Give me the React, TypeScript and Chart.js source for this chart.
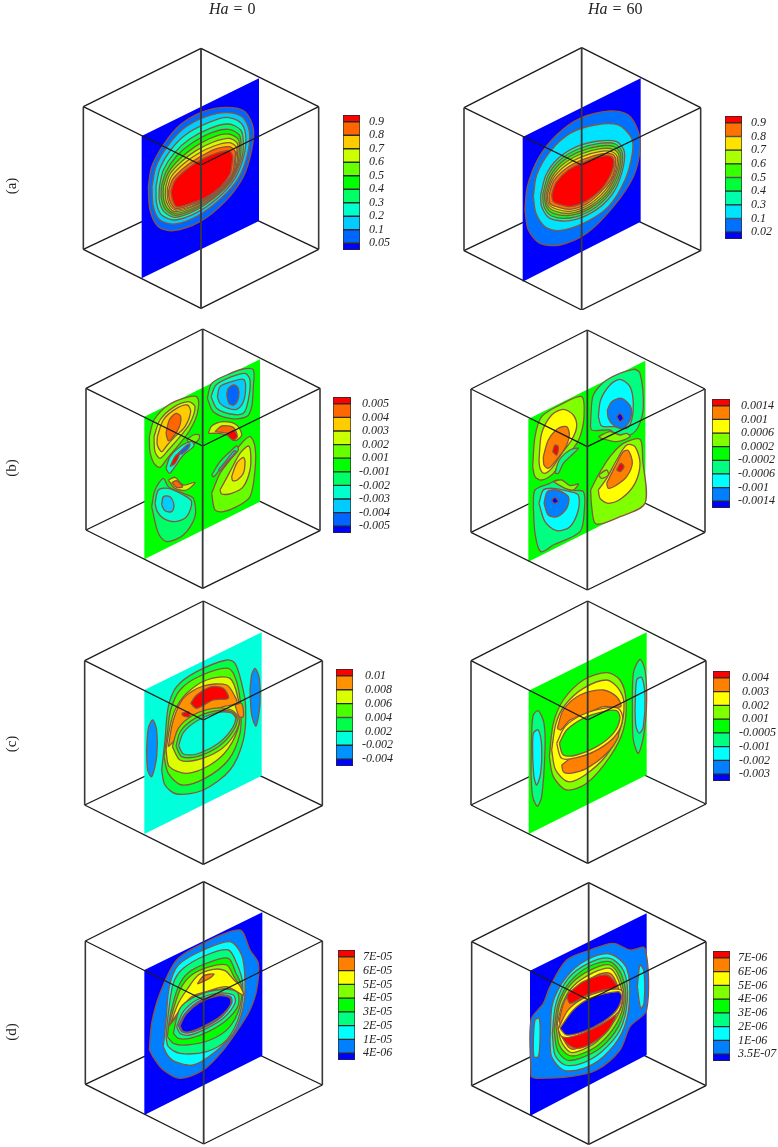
import React, { useEffect, useRef } from "react";
import { Chart, registerables } from "chart.js";

Chart.register(...registerables);

// ---- colour-bar level labels (top to bottom)
const labelsA0 = ["0.9", "0.8", "0.7", "0.6", "0.5", "0.4", "0.3", "0.2", "0.1", "0.05"];
const labelsA60 = ["0.9", "0.8", "0.7", "0.6", "0.5", "0.4", "0.3", "0.1", "0.02"];
const labelsB0 = ["0.005", "0.004", "0.003", "0.002", "0.001", "-0.001", "-0.002", "-0.003", "-0.004", "-0.005"];
const labelsB60 = ["0.0014", "0.001", "0.0006", "0.0002", "-0.0002", "-0.0006", "-0.001", "-0.0014"];
const labelsC0 = ["0.01", "0.008", "0.006", "0.004", "0.002", "-0.002", "-0.004"];
const labelsC60 = ["0.004", "0.003", "0.002", "0.001", "-0.0005", "-0.001", "-0.002", "-0.003"];
const labelsD0 = ["7E-05", "6E-05", "5E-05", "4E-05", "3E-05", "2E-05", "1E-05", "4E-06"];
const labelsD60 = ["7E-06", "6E-06", "5E-06", "4E-06", "3E-06", "2E-06", "1E-06", "3.5E-07"];

// ---- cube vertices: top, upperLeft, upperRight, lowerLeft, lowerRight, bottom, centre, back
const cubeA0 = [[363,115],[10,290],[716,290],[10,718],[716,718],[363,895],[363,465],[363,551]];
const cubeA60 = [[335,113],[-18,293],[692,293],[-18,722],[692,722],[335,900],[335,465],[335,553]];
const cubeB0 = [[368,27],[18,205],[720,205],[18,630],[720,632],[368,805],[368,378],[368,460]];
const cubeB60 = [[352,30],[3,207],[705,207],[3,637],[705,637],[352,810],[352,380],[352,465]];
const cubeC0 = [[370,3],[14,182],[727,182],[14,615],[727,617],[370,793],[370,360],[370,445]];
const cubeC60 = [[353,3],[3,182],[708,182],[3,615],[708,612],[353,790],[353,360],[353,445]];
const cubeD0 = [[371,5],[16,183],[727,183],[16,613],[727,615],[371,792],[371,360],[371,445]];
const cubeD60 = [[356,8],[5,185],[708,185],[5,617],[708,617],[356,793],[356,360],[356,445]];

// ---- slice planes
const planeA0 = [185,378,537,205,537,633,185,805];
const planeA60 = [158,381,512,205,512,635,158,815];
const planeB0 = [193,290,540,118,540,545,193,718];
const planeB60 = [175,297,526,122,526,550,175,725];
const planeC0 = [193,270,545,97,545,527,193,702];
const planeC60 = [176,272,530,97,530,525,176,702];
const planeD0 = [193,270,547,97,547,527,193,705];
const planeD60 = [180,272,530,100,530,525,180,708];

// ---- contour bands: [band index from top of the colour bar, x,y, x,y, ...]
const contoursA0: [number, number[]][] = [
  [9,[205,530,215,470,250,405,300,345,370,305,440,292,495,305,520,355,515,420,490,500,435,575,360,635,280,662,235,650,210,600]],
  [8,[216,530,228,470,262,410,312,355,378,320,440,308,488,322,508,365,503,430,475,505,420,568,352,618,285,642,240,630,220,590]],
  [7,[228,530,240,475,272,420,320,372,385,338,440,322,482,338,497,375,492,435,465,505,412,565,350,608,285,630,245,615,230,580]],
  [6,[238,530,250,480,282,430,328,388,390,355,445,342,482,360,490,395,485,445,455,512,402,565,345,602,285,622,252,605,238,572]],
  [5,[244,530,258,485,290,438,335,400,395,368,445,358,478,375,483,410,478,455,450,515,398,565,342,598,285,616,256,598,244,565]],
  [4,[250,530,265,488,298,448,342,412,398,382,445,372,475,388,478,420,472,465,445,518,395,563,340,594,285,610,260,592,250,562]],
  [3,[257,530,270,492,304,455,348,422,400,396,447,385,472,400,473,430,468,472,440,520,392,562,338,590,285,605,264,586,256,560]],
  [2,[262,535,275,498,310,462,352,432,402,408,448,398,470,412,468,440,463,480,435,524,388,562,336,588,287,600,268,582,262,558]],
  [1,[266,540,280,505,316,470,358,442,404,418,448,410,466,425,464,450,458,488,430,526,384,562,334,584,288,596,272,578,266,558]],
  [0,[273,545,285,512,320,478,362,450,408,430,446,422,458,438,456,462,450,492,422,530,378,562,332,580,290,590,278,570]],
];
const contoursA60: [number, number[]][] = [
  [8,[165,600,172,530,205,445,260,375,330,325,420,303,475,315,505,365,510,420,490,500,430,590,350,670,270,705,210,700,175,660]],
  [7,[190,560,200,495,240,425,300,370,375,345,445,345,485,385,487,430,465,510,415,590,340,640,265,662,225,650,198,610]],
  [6,[212,555,228,495,265,445,320,410,385,393,440,395,463,425,455,490,425,555,370,605,300,632,240,625,215,590]],
  [5,[218,555,234,497,270,450,325,417,388,400,436,402,457,428,450,490,420,550,365,600,300,624,245,618,222,590]],
  [4,[223,555,240,500,275,456,330,424,390,408,432,410,452,432,444,490,415,548,360,595,300,616,250,610,228,588]],
  [3,[228,555,245,503,280,462,333,432,392,416,430,418,447,436,438,492,410,545,358,590,300,610,254,603,232,585]],
  [2,[232,555,248,508,285,468,336,440,392,424,428,426,442,442,433,495,405,542,355,585,300,604,258,597,236,582]],
  [1,[237,555,252,512,290,474,340,448,394,432,426,432,437,448,428,498,400,538,352,580,300,598,262,591,240,580]],
  [0,[245,555,258,518,295,480,345,455,396,438,424,440,432,458,420,498,395,536,348,574,300,590,268,583,250,575]],
];
const contoursB0: [number, number[]][] = [
  [4,[208,350,222,300,265,255,320,232,352,232,352,280,330,330,300,370,262,415,240,442,222,430,210,395]],
  [3,[222,350,240,300,280,262,325,245,345,260,330,310,300,350,265,390,240,415,225,395]],
  [2,[232,350,250,300,285,268,322,255,332,275,315,320,285,350,262,375,245,395,232,375]],
  [1,[258,340,268,300,288,280,302,290,298,320,280,350,265,362]],
  [4,[320,360,340,345,358,345,355,360,335,372]],
  [7,[258,445,270,410,300,380,335,365,342,378,310,405,285,440,268,460]],
  [0,[270,440,285,410,300,398,285,430]],
  [9,[295,400,315,380,330,372,325,385,305,402]],
  [6,[382,235,395,190,440,165,490,147,520,150,520,200,515,260,500,290,450,295,400,275]],
  [7,[393,230,408,195,450,172,495,160,510,180,505,240,490,280,450,282,410,265]],
  [8,[412,230,420,200,455,185,490,178,497,200,490,245,470,268,445,265,420,250]],
  [9,[440,225,445,205,462,195,475,205,475,235,462,255,447,250]],
  [3,[385,340,395,318,430,305,470,315,485,345,465,362,440,345,410,340]],
  [1,[405,335,425,318,460,322,470,345,445,340]],
  [0,[440,342,462,332,472,350,458,360]],
  [4,[395,520,420,460,450,420,480,375,510,350,525,380,525,450,510,530,470,560,430,575,405,570]],
  [3,[420,510,450,455,480,400,505,378,512,400,510,450,490,500,455,520,425,522]],
  [2,[455,470,470,430,490,412,495,425,490,460,472,480,458,482]],
  [6,[395,465,420,425,450,395,470,378,475,390,445,425,415,455,402,470]],
  [8,[415,450,440,420,462,392,468,395,440,428,420,452]],
  [3,[265,480,285,472,310,495,345,487,320,510,285,505]],
  [1,[275,488,290,482,308,500,290,502]],
  [6,[215,560,225,510,250,475,265,500,310,520,340,535,345,590,310,645,260,665,235,640]],
  [7,[225,550,235,510,265,505,310,525,335,545,320,590,285,605,250,595,232,575]],
  [8,[245,555,250,530,270,530,282,555,275,575,255,572]],
];
const contoursB60: [number, number[]][] = [
  [3,[188,440,195,350,215,290,270,255,335,230,342,290,330,350,310,385,280,410,250,460,215,480,195,470]],
  [2,[207,420,215,340,245,285,280,268,310,285,320,320,305,360,275,400,245,445,222,460,210,445]],
  [1,[220,410,235,360,265,325,290,320,298,345,285,385,255,425,235,445,222,435]],
  [0,[248,395,255,375,265,380,260,405]],
  [5,[255,460,268,420,300,390,325,385,300,410,280,430,265,460]],
  [5,[362,300,370,225,410,180,490,148,510,160,520,260,505,320,480,345,440,345,420,330,365,330]],
  [6,[385,290,392,240,420,195,450,178,480,200,490,250,485,300,470,325,430,320,395,318]],
  [7,[412,270,425,245,455,235,482,260,482,295,460,325,430,315,415,295]],
  [8,[440,290,450,280,460,295,450,305]],
  [3,[385,350,420,335,450,345,470,340,480,350,440,365,395,355]],
  [3,[362,510,385,465,420,410,460,370,510,358,518,420,525,550,450,590,378,612,365,560]],
  [2,[385,510,410,475,440,420,470,375,495,380,510,430,495,490,455,535,415,550,390,535]],
  [1,[410,490,435,440,460,395,475,392,487,430,470,470,440,495,415,505]],
  [0,[440,450,452,430,462,440,450,455]],
  [3,[385,465,410,450,415,465,395,475]],
  [5,[190,560,195,510,240,490,265,480,300,510,340,515,343,570,330,635,250,675,212,695,195,640]],
  [3,[250,485,275,480,300,497,325,492,310,510,285,505]],
  [6,[207,550,220,510,250,505,300,515,325,525,325,570,300,620,260,632,225,605]],
  [7,[222,550,232,515,260,510,295,530,290,565,262,590,235,585]],
  [8,[245,540,255,532,265,545,252,550]],
];
const contoursC0: [number, number[]][] = [
  [6,[200,450,205,385,218,360,230,390,230,470,215,530,203,510]],
  [6,[510,270,515,225,525,205,538,235,540,310,528,378,515,345]],
  [4,[245,510,255,420,265,320,290,260,350,215,440,180,465,190,485,250,497,320,490,420,450,510,370,570,290,582,255,555]],
  [3,[252,470,262,400,272,330,300,270,360,228,445,205,470,245,482,320,480,400,445,480,375,535,305,555,265,520]],
  [2,[258,450,270,380,285,330,320,280,380,240,450,235,475,300,478,370,445,445,390,495,320,520,268,500]],
  [1,[265,440,280,360,310,295,370,258,440,255,465,290,470,310,430,320,375,340,320,375,285,420]],
  [1,[465,315,485,310,490,350,478,350]],
  [0,[332,310,350,285,395,260,430,265,445,295,400,300,350,325]],
  [0,[305,340,325,335,330,350,310,348]],
  [3,[277,440,295,385,340,345,400,325,455,330,478,360,462,405,420,450,350,480,300,480]],
  [4,[288,438,302,393,345,355,405,333,455,335,472,358,456,398,415,440,350,470,305,470]],
  [5,[296,437,310,398,350,363,410,338,452,338,467,355,452,392,412,432,350,462,310,462]],
];
const contoursC60: [number, number[]][] = [
  [5,[183,520,185,400,190,345,205,332,222,370,225,450,215,590,202,618,188,590]],
  [6,[188,470,190,400,205,390,215,440,212,520,200,555,192,530]],
  [5,[487,350,490,220,510,178,525,210,530,300,522,400,505,460,490,420]],
  [6,[495,330,500,240,515,232,525,290,520,380,508,400,498,380]],
  [3,[238,470,250,370,280,300,340,240,410,218,450,240,468,300,460,390,420,470,350,550,290,570,250,530]],
  [2,[245,450,258,370,285,315,340,265,410,240,445,265,462,310,450,390,410,465,345,525,295,545,257,510]],
  [1,[262,385,280,330,330,285,400,270,440,290,452,320,400,320,350,340,300,360,272,390]],
  [1,[275,495,310,470,380,440,440,390,445,410,410,460,350,505,300,520,280,515]],
  [2,[260,430,285,380,335,345,400,325,445,325,458,355,438,405,385,448,320,473,275,475]],
  [4,[268,430,290,390,340,355,400,335,440,332,450,355,430,400,380,440,320,465,280,465]],
];
const contoursD0: [number, number[]][] = [
  [7,[208,510,222,535,250,570,300,595,370,570,430,510,480,440,510,390,530,330,535,250,510,210,480,150,370,190,290,240,240,340,215,430]],
  [6,[250,500,258,420,268,320,295,255,370,210,450,185,485,225,495,300,490,380,460,460,400,520,340,555,285,545,262,525]],
  [5,[258,470,265,400,280,310,310,265,380,225,445,210,470,250,488,310,480,400,440,480,380,515,300,520,265,500]],
  [4,[262,470,272,400,295,320,325,278,385,248,445,235,468,280,485,320,478,385,445,445,390,480,320,495,280,490]],
  [3,[265,440,300,330,335,285,390,260,440,255,462,290,478,320,440,325,380,335,330,360,290,410]],
  [2,[272,430,295,370,320,330,355,285,400,268,435,272,462,300,478,315,490,345,440,320,380,335,335,350,300,390]],
  [1,[352,312,370,288,402,282,388,295]],
  [5,[280,460,300,385,345,350,410,330,470,335,475,375,440,420,385,455,330,475,295,475]],
  [6,[290,440,310,395,350,360,410,340,460,345,465,370,430,415,380,445,330,465,300,460]],
  [7,[295,437,315,400,355,365,410,345,452,350,455,370,425,410,378,440,330,458,305,455]],
  [8,[300,437,318,403,358,368,410,348,448,352,452,372,422,408,376,436,330,455,308,453]],
];
const contoursD60: [number, number[]][] = [
  [7,[183,590,183,420,220,370,240,320,290,240,360,210,430,190,480,210,525,205,530,390,480,440,450,510,380,570,300,590,200,595]],
  [6,[190,480,195,420,208,415,210,480,205,530,192,530]],
  [6,[502,320,510,255,522,275,522,370,512,385]],
  [6,[240,480,248,370,290,290,350,240,420,222,470,265,478,370,455,460,400,530,340,565,280,570,245,530]],
  [5,[247,460,258,370,295,295,355,250,420,235,462,275,472,360,450,450,395,515,335,550,285,555,255,525]],
  [4,[252,450,265,370,300,305,360,258,420,245,455,285,467,360,445,440,390,505,330,535,290,540,262,510]],
  [3,[258,440,270,370,305,310,365,268,420,255,450,295,462,360,440,430,385,495,325,525,295,525,268,495]],
  [2,[262,430,278,370,310,318,370,278,420,265,445,300,458,360,435,420,380,485,322,515,298,515,272,480]],
  [1,[268,420,285,360,320,325,375,288,420,280,442,315,452,365,430,410,375,475,320,505,300,505,278,470]],
  [0,[290,345,340,305,410,285,440,320,400,330,350,345,300,370]],
  [0,[275,470,330,445,400,420,440,395,415,450,365,490,320,505,290,490]],
  [2,[264,447,296,388,350,350,423,328,456,333,448,392,403,428,340,459,297,472,274,469]],
  [8,[270,445,310,390,360,355,445,335,455,350,440,390,400,425,340,455,290,465]],
];

const panels = [
  { x: 80, y: 10, labels: labelsA0, cube: cubeA0, plane: planeA0, bg: 10, contours: contoursA0, bar: [343, 115, 17, 135], lab: 369 },
  { x: 470, y: 10, labels: labelsA60, cube: cubeA60, plane: planeA60, bg: 9, contours: contoursA60, bar: [725, 116, 17, 123], lab: 751 },
  { x: 80, y: 320, labels: labelsB0, cube: cubeB0, plane: planeB0, bg: 5, contours: contoursB0, bar: [333, 397, 18, 136], lab: 359 },
  { x: 470, y: 320, labels: labelsB60, cube: cubeB60, plane: planeB60, bg: 4, contours: contoursB60, bar: [712, 399, 18, 109], lab: 738 },
  { x: 80, y: 600, labels: labelsC0, cube: cubeC0, plane: planeC0, bg: 5, contours: contoursC0, bar: [336, 669, 17, 97], lab: 362 },
  { x: 470, y: 600, labels: labelsC60, cube: cubeC60, plane: planeC60, bg: 4, contours: contoursC60, bar: [713, 671, 17, 110], lab: 739 },
  { x: 80, y: 880, labels: labelsD0, cube: cubeD0, plane: planeD0, bg: 8, contours: contoursD0, bar: [338, 950, 17, 110], lab: 363 },
  { x: 470, y: 880, labels: labelsD60, cube: cubeD60, plane: planeD60, bg: 8, contours: contoursD60, bar: [713, 951, 17, 110], lab: 738 },
];

const rowLabels = [["(a)", 186], ["(b)", 468], ["(c)", 744], ["(d)", 1032]] as const;
const LINE = "#1a1a1a";
const VLINE = "#383838";
const CONTOUR = "#8a5540";
const FONT = '"Liberation Serif", serif';

const bandColor = (i: number, n: number) => `hsl(${(240 * i) / (n - 1)},100%,50%)`;
const toPts = (f: number[]) => {
  const out: { x: number; y: number }[] = [];
  for (let i = 0; i < f.length; i += 2) out.push({ x: f[i], y: f[i + 1] });
  return out;
};

const polyFill = {
  id: "polyFill",
  beforeDatasetDraw(chart: any, args: any) {
    const ds = chart.data.datasets[args.index];
    if (!ds.polyFill) return;
    const line = args.meta.dataset;
    line.updateControlPoints(chart.chartArea);
    const ctx = chart.ctx;
    ctx.save();
    ctx.fillStyle = ds.polyFill;
    ctx.beginPath();
    line.path(ctx);
    ctx.closePath();
    ctx.fill();
    ctx.restore();
  },
};

function panelDatasets(p: (typeof panels)[number]) {
  const n = p.labels.length + 1;
  const [T, UL, UR, LL, LR, B, C, K] = p.cube;
  const edge = (a: number[], b: number[], w = 1.3, c = LINE) => ({
    data: [{ x: a[0], y: a[1] }, { x: b[0], y: b[1] }],
    borderColor: c, borderWidth: w, pointRadius: 0, tension: 0,
  });
  const list: any[] = [
    edge(LL, K), edge(LR, K),
    { data: toPts(p.plane), polyFill: bandColor(p.bg, n), borderWidth: 0, borderColor: "transparent", pointRadius: 0, tension: 0 },
  ];
  for (const [band, f] of p.contours) {
    const pts = toPts(f);
    pts.push(pts[0]);
    list.push({ data: pts, polyFill: bandColor(band, n), borderColor: CONTOUR, borderWidth: 1.3, pointRadius: 0, tension: 0.3 });
  }
  list.push(
    edge(T, UL), edge(T, UR), edge(LL, B), edge(LR, B), edge(UL, C), edge(UR, C),
    edge(UL, LL, 1.6, VLINE), edge(UR, LR, 1.6, VLINE), edge(T, B, 1.8, VLINE)
  );
  list.forEach((d, i) => (d.order = list.length - i));
  return list;
}

function Panel({ p }: { p: (typeof panels)[number] }) {
  const ref = useRef<HTMLCanvasElement>(null);
  useEffect(() => {
    const chart = new Chart(ref.current!, {
      type: "line",
      data: { datasets: panelDatasets(p) },
      options: {
        responsive: false, animation: false, events: [],
        layout: { padding: 0 },
        plugins: { legend: { display: false }, tooltip: { enabled: false } },
        scales: {
          x: { type: "linear", display: false, min: -30, max: 870 },
          y: { type: "linear", display: false, reverse: true, min: 0, max: 900 },
        },
      },
      plugins: [polyFill],
    } as any);
    return () => chart.destroy();
  }, []);
  return <canvas ref={ref} width={300} height={300} style={{ position: "absolute", left: p.x - 10, top: p.y }} />;
}

function ColorBar({ p }: { p: (typeof panels)[number] }) {
  const ref = useRef<HTMLCanvasElement>(null);
  const [bx, by, bw, bh] = p.bar;
  const W = Math.min(70, 778 - bx + 1);
  useEffect(() => {
    const labels = p.labels;
    const n = labels.length;
    const hasNeg = labels.some((l) => l.startsWith("-"));
    const sizes = [0.5, ...labels.slice(1).map(() => 1), 0.5];
    const datasets = sizes.map((s, i) => ({
      data: [s],
      backgroundColor: bandColor(n - i, n + 1),
      borderColor: "#2a2a2a",
      borderWidth: 1,
      borderSkipped: false,
      barPercentage: 1,
      categoryPercentage: 1,
      stack: "bar",
    }));
    const chart = new Chart(ref.current!, {
      type: "bar",
      data: { labels: [""], datasets },
      options: {
        responsive: false, animation: false, events: [],
        layout: { padding: { top: 1, bottom: 1, left: 1, right: 0 } },
        plugins: { legend: { display: false }, tooltip: { enabled: false } },
        scales: {
          x: { display: false, stacked: true },
          y: {
            stacked: true, position: "right", min: 0, max: n,
            grid: { display: false, drawTicks: false }, border: { display: false },
            afterFit: (s: any) => { s.width = W - bw - 1; s.paddingTop = 0; s.paddingBottom = 0; },
            afterBuildTicks: (s: any) => { s.ticks = labels.map((_, i) => ({ value: n - 0.5 - i })); },
            ticks: {
              autoSkip: false, maxRotation: 0, padding: p.lab - (bx + bw),
              color: "#222",
              font: { family: FONT, size: 12, style: "italic" },
              callback: (_: any, i: number) => (hasNeg && !labels[i].startsWith("-") ? "\u00a0" + labels[i] : labels[i]),
            },
          },
        },
      },
    } as any);
    return () => chart.destroy();
  }, []);
  return <canvas ref={ref} width={W} height={bh + 2} style={{ position: "absolute", left: bx - 1, top: by - 1 }} />;
}

export default function App() {
  return (
    <div style={{ position: "absolute", left: 0, top: 0, width: 778, height: 1147, overflow: "hidden", fontFamily: FONT, color: "#222", filter: "blur(0.35px)" }}>
      {panels.map((p, i) => <Panel key={i} p={p} />)}
      {panels.map((p, i) => <ColorBar key={i} p={p} />)}
      <div style={{ position: "absolute", left: 209, top: 0, fontSize: 16, wordSpacing: 1, whiteSpace: "pre" }}><i>Ha</i> = 0</div>
      <div style={{ position: "absolute", left: 588, top: 0, fontSize: 16, wordSpacing: 1, whiteSpace: "pre" }}><i>Ha</i> = 60</div>
      {rowLabels.map(([t, y]) => (
        <div key={t} style={{ position: "absolute", left: 1, top: y - 10, width: 20, height: 20, lineHeight: "20px", textAlign: "center", fontSize: 15, transform: "rotate(-90deg)" }}>{t}</div>
      ))}
    </div>
  );
}
